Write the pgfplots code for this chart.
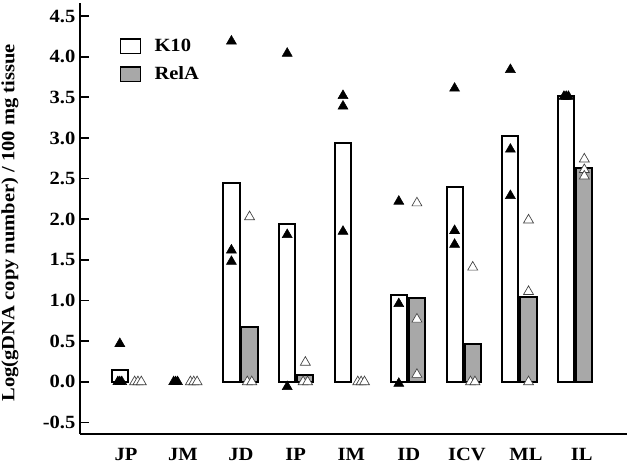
\documentclass[border=0pt]{standalone}
\usepackage{pgfplots}
\pgfplotsset{compat=1.18}
\usepackage{fontspec}
\setmainfont[FakeStretch=1.1]{Liberation Serif}
\pgfplotsset{sqleg/.style={legend image code/.code={\draw[##1, line width=1.1pt] (0pt,-5.5pt) rectangle (15pt,5.5pt);}}}
\begin{document}
\begin{tikzpicture}
\begin{axis}[
  scale only axis, width=410pt, height=323pt,
  xmin=-0.873, xmax=8.93, ymin=-0.64, ymax=4.66,
  axis x line=bottom, axis y line=left,
  axis line style={-, line width=1.7pt},
  xtick={-0.05,0.97,2.01,2.99,3.99,5.02,6.06,7.12,8.12},
  xticklabels={JP,JM,JD,IP,IM,ID,ICV,ML,IL},
  x tick style={draw=none},
  ytick={-0.5,0,0.5,1,1.5,2,2.5,3,3.5,4,4.5},
  y tick style={line width=1.3pt, black},
  tick align=inside, major tick length=7pt,
  yticklabel style={/pgf/number format/fixed, /pgf/number format/fixed zerofill, /pgf/number format/precision=1, /pgf/number format/assume math mode=true},
  ticklabel style={font=\bfseries\fontsize{14}{16}\selectfont},
  xticklabel style={yshift=-7.5pt},
  ylabel={Log(gDNA copy number) / 100 mg tissue},
  every axis y label/.style={at={(axis description cs:-0.128,0.49)}, rotate=90, anchor=center,
    font=\bfseries\fontsize{14}{16}\selectfont},
  legend style={draw=none, fill=none, at={(0.072,0.92)}, anchor=north west, inner sep=0pt,
    font=\bfseries\fontsize{14}{16}\selectfont, row sep=8pt,
    nodes={inner sep=1pt},
    /tikz/every odd column/.append style={column sep=9pt}},
  legend cell align=left,
  clip=false,
]
% K10 bars
\addplot[ybar, bar width=0.29, bar shift=0pt, fill=white, draw=black, line width=1.5pt, sqleg]
  coordinates {(-0.16,0.15) (1.84,2.45) (2.84,1.94) (3.84,2.94) (4.84,1.07) (5.84,2.40) (6.84,3.02) (7.84,3.52)};
\addlegendentry{K10}
% RelA bars
\addplot[ybar, bar width=0.29, bar shift=0pt, fill=gray!68, draw=black, line width=1.5pt, sqleg]
  coordinates {(2.165,0.68) (3.165,0.086) (5.165,1.03) (6.165,0.47) (7.165,1.04) (8.165,2.63)};
\addlegendentry{RelA}
% K10 individual values (filled triangles)
\addplot[only marks, mark=triangle*, mark size=4.3pt, mark options={fill=black, draw=black}, forget plot]
  coordinates {
  (-0.16,0.47) (-0.195,0) (-0.16,0) (-0.125,0)
  (0.805,0) (0.84,0) (0.875,0)
  (1.84,4.19) (1.84,1.62) (1.84,1.48)
  (2.84,4.04) (2.84,1.81) (2.84,-0.06)
  (3.84,3.52) (3.84,3.39) (3.84,1.85)
  (4.84,2.22) (4.84,0.96) (4.84,-0.02)
  (5.84,3.61) (5.84,1.86) (5.84,1.69)
  (6.84,3.84) (6.84,2.86) (6.84,2.29)
  (7.80,3.51) (7.84,3.51) (7.88,3.51)
  };
% RelA individual values (open triangles)
\addplot[only marks, mark=triangle*, mark size=4.3pt, mark options={fill=white, draw=black!75, line width=0.5pt}, forget plot]
  coordinates {
  (0.105,0) (0.165,0) (0.225,0)
  (1.105,0) (1.165,0) (1.225,0)
  (2.165,2.03) (2.125,0) (2.205,0)
  (3.165,0.24) (3.125,0) (3.205,0)
  (4.105,0) (4.165,0) (4.225,0)
  (5.165,2.20) (5.165,0.77) (5.165,0.09)
  (6.165,1.41) (6.125,0) (6.205,0)
  (7.165,1.99) (7.165,1.11) (7.165,0)
  (8.165,2.74) (8.165,2.61) (8.165,2.53)
  };
\end{axis}
\pgfresetboundingbox
\path ([shift={(-60pt,-23.25pt)}]current axis.south west) rectangle ([shift={(2.25pt,2.25pt)}]current axis.north east);
\end{tikzpicture}
\end{document}
